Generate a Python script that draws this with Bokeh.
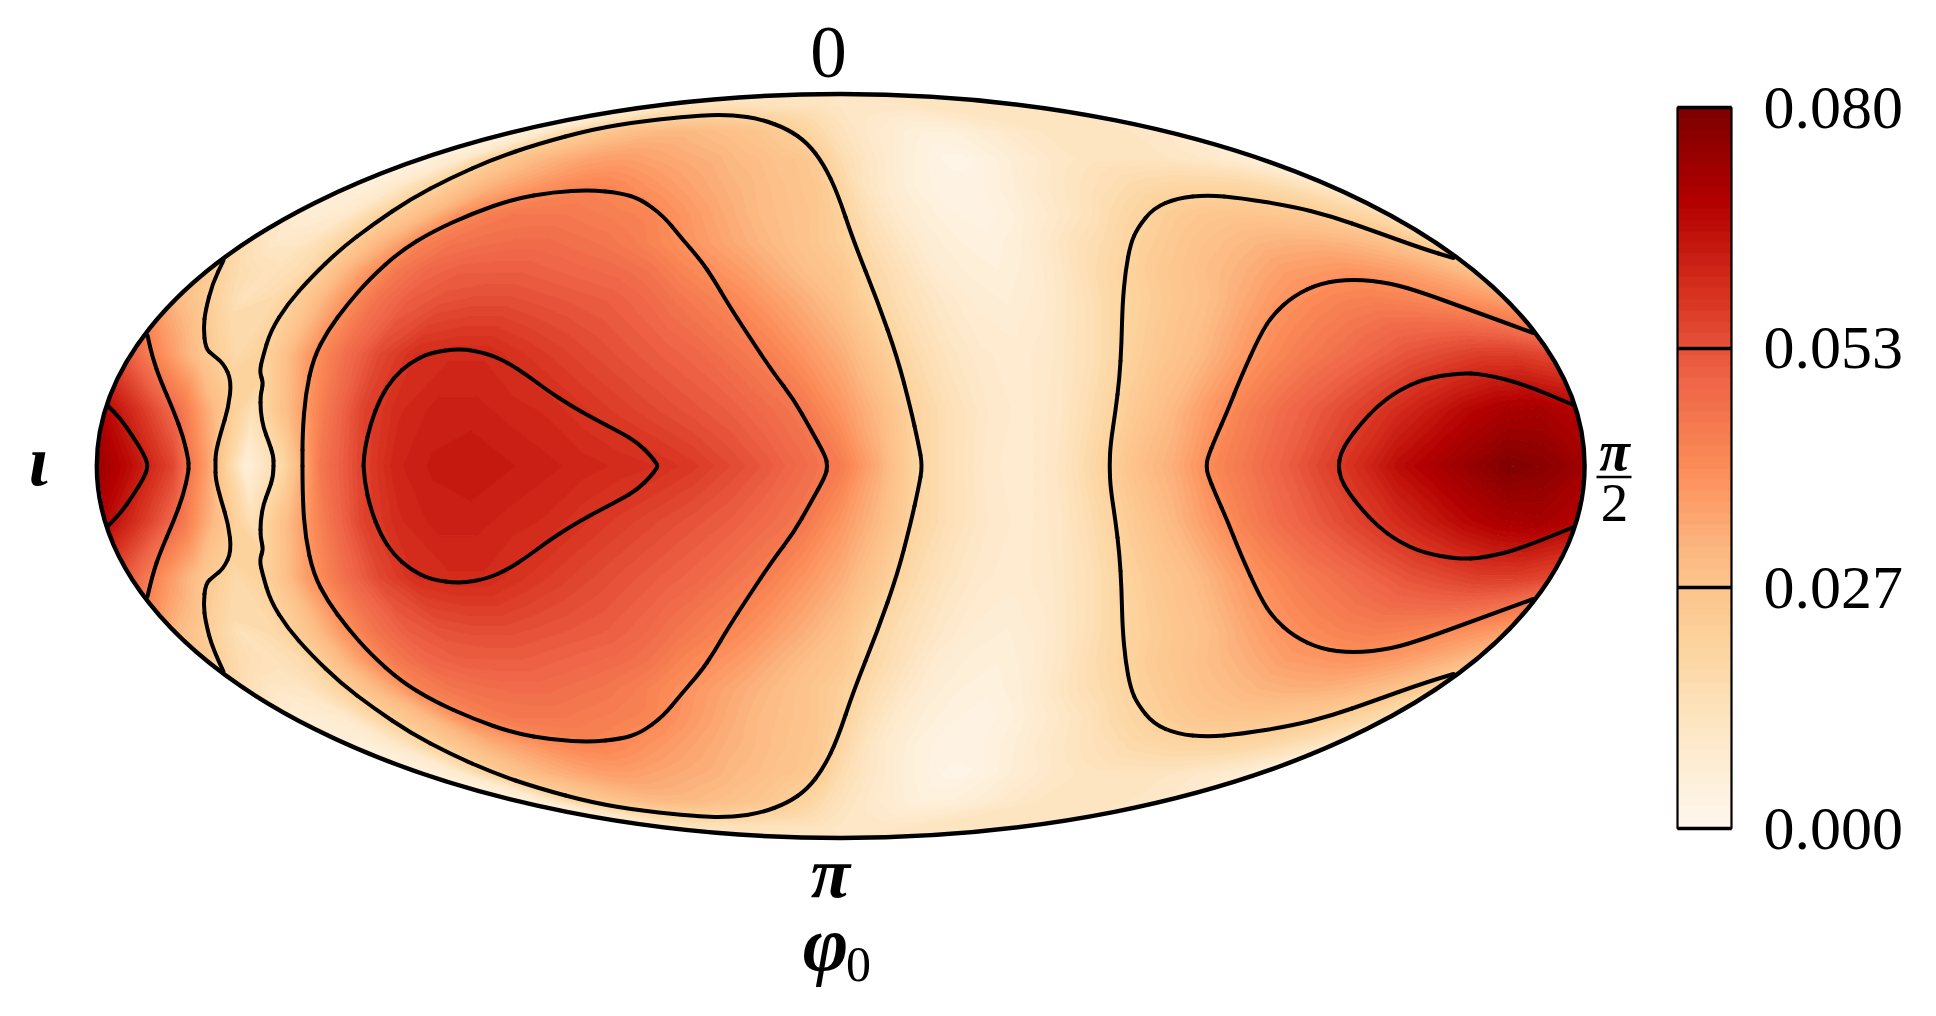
import numpy as np
from bokeh.plotting import figure
from bokeh.models import Range1d, ColorBar, LinearColorMapper, FixedTicker, PrintfTickFormatter
from bokeh.palettes import OrRd9, interp_palette
from bokeh.core.properties import value
from bokeh.embed import file_html
from bokeh.resources import INLINE

# Density: one list per latitude (sin of the Mollweide angle),
# longitudes from -1 to +1 in steps of 0.05
lon_frac = [round(-1 + 0.05 * i, 2) for i in range(41)]
lat_sin = [0.0, 0.15, 0.3, 0.45, 0.525, 0.6, 0.675, 0.75, 0.825, 0.9, 0.97, 1.0]
row_000 = [.074,.066,.056,.035,.005,.018,.045,.055,.062,.064,.065,.064,.063,.062,.061,.060,.058,.055,.052,.048,.044,.033,.020,.014,.009,.008,.012,.020,.028,.033,.041,.046,.051,.056,.061,.067,.071,.075,.079,.077,.073]
row_015 = [.068,.058,.047,.029,.014,.030,.045,.056,.061,.063,.063,.062,.061,.059,.057,.055,.053,.051,.048,.045,.038,.030,.020,.014,.010,.008,.011,.017,.024,.030,.037,.043,.048,.052,.056,.060,.064,.068,.071,.072,.069]
row_030 = [.050,.038,.026,.017,.023,.037,.047,.055,.060,.061,.061,.059,.057,.055,.053,.051,.049,.046,.043,.038,.033,.025,.017,.012,.009,.008,.010,.014,.020,.025,.029,.035,.040,.044,.047,.050,.053,.055,.057,.057,.055]
row_045 = [.030,.022,.013,.017,.026,.037,.046,.051,.053,.054,.054,.053,.052,.051,.049,.046,.043,.040,.036,.032,.027,.019,.014,.010,.007,.006,.008,.012,.017,.021,.025,.028,.033,.037,.040,.042,.043,.042,.040,.038,.035]
row_052 = [.024,.016,.013,.016,.027,.037,.045,.049,.051,.051,.051,.050,.049,.048,.046,.042,.039,.036,.032,.028,.025,.018,.013,.008,.006,.005,.007,.011,.016,.020,.024,.027,.030,.033,.036,.037,.038,.037,.035,.032,.028]
row_060 = [.015,.010,.011,.018,.027,.034,.043,.046,.047,.048,.048,.047,.046,.044,.041,.038,.035,.032,.029,.026,.022,.016,.011,.007,.005,.004,.006,.010,.014,.017,.021,.024,.027,.029,.031,.032,.032,.031,.029,.026,.020]
row_067 = [.008,.007,.009,.018,.025,.030,.038,.043,.045,.045,.045,.044,.043,.042,.039,.036,.033,.030,.028,.026,.021,.014,.009,.006,.004,.003,.004,.007,.010,.013,.017,.020,.023,.025,.026,.026,.025,.024,.022,.019,.015]
row_075 = [.006,.006,.010,.017,.023,.029,.033,.036,.039,.041,.042,.041,.039,.037,.035,.033,.031,.029,.027,.025,.019,.012,.008,.005,.003,.003,.004,.006,.009,.011,.013,.015,.017,.018,.019,.019,.019,.018,.016,.013,.009]
row_082 = [.005,.006,.009,.018,.025,.028,.031,.033,.035,.036,.036,.035,.034,.033,.032,.030,.029,.027,.026,.023,.016,.012,.009,.006,.004,.002,.002,.004,.006,.008,.010,.011,.012,.012,.012,.012,.011,.010,.009,.007,.005]
row_090 = [.005,.006,.009,.015,.021,.024,.026,.028,.029,.030,.030,.030,.029,.028,.027,.026,.024,.022,.019,.016,.013,.011,.009,.008,.006,.005,.005,.005,.006,.007,.009,.010,.011,.012,.012,.012,.012,.012,.011,.011,.010]
row_097 = [.012,.012,.012,.012,.013,.013,.013,.013,.013,.013,.013,.013,.013,.012,.012,.012,.012,.012,.012,.011,.011,.011,.011,.011,.011,.011,.011,.011,.011,.012,.012,.012,.012,.012,.012,.012,.012,.012,.012,.012,.012]
pole_value = 0.011

# Contour lines: x along the map, height above the equator; mirrored below it
c1_x = [107, 120, 133, 143, 148]
c1_h = [60.5, 47.5, 28.5, 12.5, 0]
c2_x = [147, 152, 160, 173, 183, 188, 188]
c2_h = [130.5, 108.5, 85.5, 55.5, 28.5, 5.5, 0]
c3_x = [223, 212, 205, 203, 205, 213, 223, 231, 228, 220, 215, 215]
c3_h = [205.5, 182.5, 155.5, 138.5, 117.5, 110.5, 102.5, 85.5, 58.5, 32.5, 12.5, 0]
l1_x = [273, 273, 268, 263, 260, 260, 263, 259, 262, 270, 287, 310, 340, 373, 410, 450, 493, 537, 593, 643, 703, 733, 760, 787, 807, 823, 837, 853, 877, 897, 910, 918, 922]
l1_h = [0, 10, 25, 38, 55, 72, 83, 94, 108, 135, 162, 188, 217, 242, 267, 288, 307, 322, 337, 345, 351, 351, 347, 337, 323, 302, 273, 225, 165, 108, 58, 22, 0]
l2_x = [302, 302, 305, 313, 327, 347, 370, 400, 433, 473, 513, 553, 590, 620, 640, 663, 680, 700, 713, 727, 747, 773, 793, 810, 825, 827]
l2_h = [0, 32, 72, 108, 135, 162, 188, 215, 235, 253, 267, 274, 276, 273, 267, 250, 229, 206, 187, 163, 132, 93, 67, 37, 10, 0]
l3_x = [363, 364, 370, 380, 393, 410, 430, 460, 487, 507, 527, 547, 570, 593, 620, 637, 650, 656, 657]
l3_h = [0, 15.5, 42.5, 68.5, 88.5, 103.5, 113.5, 117.5, 112.5, 103.5, 90.5, 75.5, 60.5, 47.5, 33.5, 23.5, 10.5, 2.5, 0]
r1_x = [1453, 1423, 1373, 1330, 1290, 1240, 1207, 1177, 1153, 1137, 1130, 1125, 1122, 1121, 1119, 1115, 1110, 1109]
r1_h = [208, 217, 235, 250, 260, 268, 271, 268, 258, 238, 222, 195, 162, 122, 88, 55, 22, 0]
r2_x = [1533, 1467, 1423, 1390, 1353, 1320, 1293, 1273, 1260, 1240, 1227, 1215, 1207, 1206]
r2_h = [133, 157, 173, 183, 187, 183, 170, 152, 132, 88, 55, 28, 8, 0]
r3_x = [1573, 1523, 1483, 1457, 1423, 1397, 1377, 1360, 1347, 1340, 1338]
r3_h = [61, 82, 92, 93, 87, 75, 60, 42, 25, 12, 0]

tick_values = [0.0, 0.0267, 0.0533, 0.08]

cx, a, b = 840.2, 743.9, 372.0
y_eq = 465.5
W, H = 1920, 1000

p = figure(width=W, height=H, x_range=Range1d(0, W), y_range=Range1d(y_eq - H, y_eq),
           x_axis_type=None, y_axis_type=None, toolbar_location=None, output_backend="svg",
           min_border=0, outline_line_color=None)
p.grid.visible = False

palette = interp_palette(OrRd9[::-1], 64)
levels = np.linspace(0, 0.08, 65)

p.ellipse([cx], [0], width=2 * a, height=2 * b, fill_color="#fde6c8", line_color=None)

rows = [row_000, row_015, row_030, row_045, row_052, row_060, row_067, row_075, row_082, row_090, row_097,
        [pole_value] * len(lon_frac)]
z_half = np.array(rows)
s_all = np.r_[-np.array(lat_sin[:0:-1]), lat_sin]
z_all = np.vstack([z_half[:0:-1], z_half])
u = np.array(lon_frac)
X = cx + a * np.outer(np.sqrt(np.clip(1 - s_all ** 2, 0, 1)), u)
Y = b * np.outer(s_all, np.ones_like(u))
p.contour(X, Y, z_all, levels=list(levels), fill_color=palette, line_color=list(palette) + [palette[-1]],
          line_width=1.2)

# Each read point is the control point of a quadratic curve drawn by the renderer
for xs, hs in [(c1_x, c1_h), (c2_x, c2_h), (c3_x, c3_h), (l1_x, l1_h), (l2_x, l2_h), (l3_x, l3_h),
               (r1_x, r1_h), (r2_x, r2_h), (r3_x, r3_h)]:
    px = np.array(list(xs) + list(xs)[::-1][1:], dtype=float)
    py = np.array(list(hs) + [-h for h in hs][::-1][1:], dtype=float)
    mx = (px[:-1] + px[1:]) / 2
    my = (py[:-1] + py[1:]) / 2
    x0 = np.r_[px[0], mx[:-1]]
    y0 = np.r_[py[0], my[:-1]]
    x1 = np.r_[mx[:-1], px[-1]]
    y1 = np.r_[my[:-1], py[-1]]
    p.quadratic(x0=x0, y0=y0, x1=x1, y1=y1, cx=px[:-1], cy=py[:-1],
                line_color="black", line_width=4, line_cap="round")

p.ellipse([cx], [0], width=2 * a, height=2 * b, fill_color=None, line_color="black", line_width=4.4)


def tx(px, py, text, size, style="normal", align="center", base="middle"):
    p.text([px], [y_eq - py], text=[text], text_font=value("Liberation Serif"),
           text_font_size=f"{size}px", text_font_style=style, text_align=align, text_baseline=base,
           text_color="black")


tx(828, 52, "0", 73)
tx(830, 872, "π", 72, "bold italic")
tx(825, 943, "φ", 78, "bold italic", "center", "alphabetic")
tx(858, 964, "0", 50, "normal", "center", "alphabetic")
tx(38, 460, "ι", 72, "bold italic")
tx(1614, 450, "π", 56, "bold italic")
tx(1614, 502, "2", 55)
p.line([1596, 1631], [y_eq - 476.5] * 2, line_color="black", line_width=2.6)

mapper = LinearColorMapper(palette=palette, low=0, high=0.08)
cb = ColorBar(color_mapper=mapper, ticker=FixedTicker(ticks=tick_values),
              formatter=PrintfTickFormatter(format="%.3f"),
              width=54, height=721, padding=0, location=(1677, 172),
              major_label_text_font="Liberation Serif", major_label_text_font_size="62px",
              major_label_text_color="black",
              label_standoff=32, major_tick_in=54, major_tick_out=0,
              major_tick_line_color="black", major_tick_line_width=3.5,
              bar_line_color="black", bar_line_width=2.2, border_line_color=None,
              background_fill_color=None, minor_tick_line_color=None)
p.add_layout(cb, "center")

open("out.html", "w").write(file_html(p, INLINE))
